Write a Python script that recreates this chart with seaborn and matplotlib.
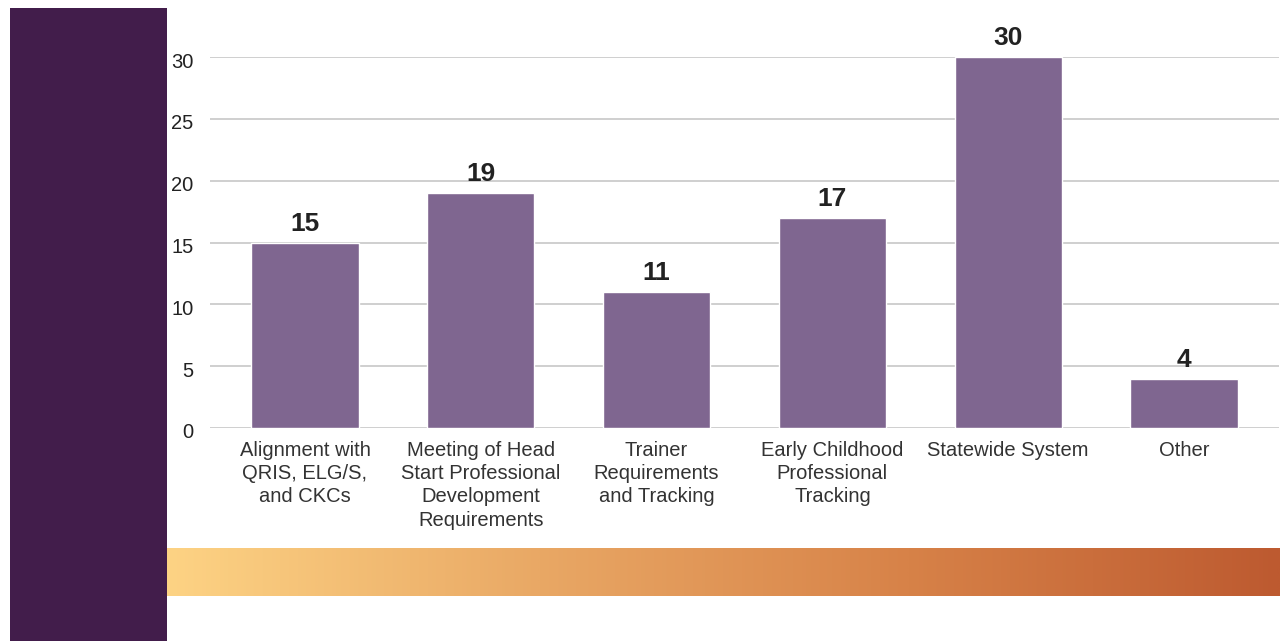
import matplotlib
matplotlib.use("Agg")
import matplotlib.pyplot as plt
import matplotlib.transforms as mtransforms
from matplotlib.colors import LinearSegmentedColormap
import numpy as np
import pandas as pd
import seaborn as sns

categories = [
    "Alignment with\nQRIS, ELG/S,\nand CKCs",
    "Meeting of Head\nStart Professional\nDevelopment\nRequirements",
    "Trainer\nRequirements\nand Tracking",
    "Early Childhood\nProfessional\nTracking",
    "Statewide System",
    "Other",
]
counts = [15, 19, 11, 17, 30, 4]
y_ticks = [0, 5, 10, 15, 20, 25, 30]

df = pd.DataFrame({"category": categories, "count": counts})

sns.set_style("white")
plt.rcParams["font.family"] = ["Liberation Sans", "DejaVu Sans"]

W, H = 1280, 641
fig = plt.figure(figsize=(W / 100, H / 100), dpi=100)

# dark purple side panel
side = fig.add_axes([10 / W, 0, (167 - 10) / W, 1 - 8 / H])
side.set_facecolor("#421D4B")
side.set_xticks([])
side.set_yticks([])
for s in side.spines.values():
    s.set_visible(False)

# gradient strip at the bottom
strip = fig.add_axes([167 / W, 1 - 596 / H, (W - 167) / W, (596 - 548) / H])
grad_cmap = LinearSegmentedColormap.from_list("strip", ["#FDD384", "#E9A865", "#D78248", "#BD5A30"])
strip.imshow(np.linspace(0, 1, 512).reshape(1, -1), aspect="auto", cmap=grad_cmap)
strip.axis("off")

# main bar chart
ax = fig.add_axes([210 / W, 1 - 428 / H, (1279 - 210) / W, (428 - 57) / H])
sns.barplot(data=df, x="category", y="count", color="#7F6690", width=0.61,
            saturation=1, ax=ax)
ax.set_xlim(-0.54, 5.54)
ax.set_ylim(0, 30)
ax.set_yticks(y_ticks)
ax.set_yticklabels([str(v) for v in y_ticks], fontsize=14.5, color="#222222")
ax.tick_params(axis="y", length=0, pad=12)
ax.tick_params(axis="x", length=0, pad=9, labelsize=14.5, labelcolor="#333333")
for lbl in ax.get_xticklabels():
    lbl.set_linespacing(1.3)
# y tick labels sit a touch below their gridlines
shift = mtransforms.ScaledTranslation(0, -3 / 100, fig.dpi_scale_trans)
for lbl in ax.get_yticklabels():
    lbl.set_transform(lbl.get_transform() + shift)
ax.grid(axis="y", color="#CCCCCC", linewidth=1.3)
ax.set_axisbelow(True)
ax.set_xlabel("")
ax.set_ylabel("")
for s in ax.spines.values():
    s.set_visible(False)

for i, v in enumerate(counts):
    ax.annotate(str(v), (i, v), xytext=(0, 5), textcoords="offset points",
                ha="center", va="bottom", fontsize=19, fontweight="bold",
                color="#222222", annotation_clip=False)

fig.savefig("out.png", dpi=100, facecolor="white")
